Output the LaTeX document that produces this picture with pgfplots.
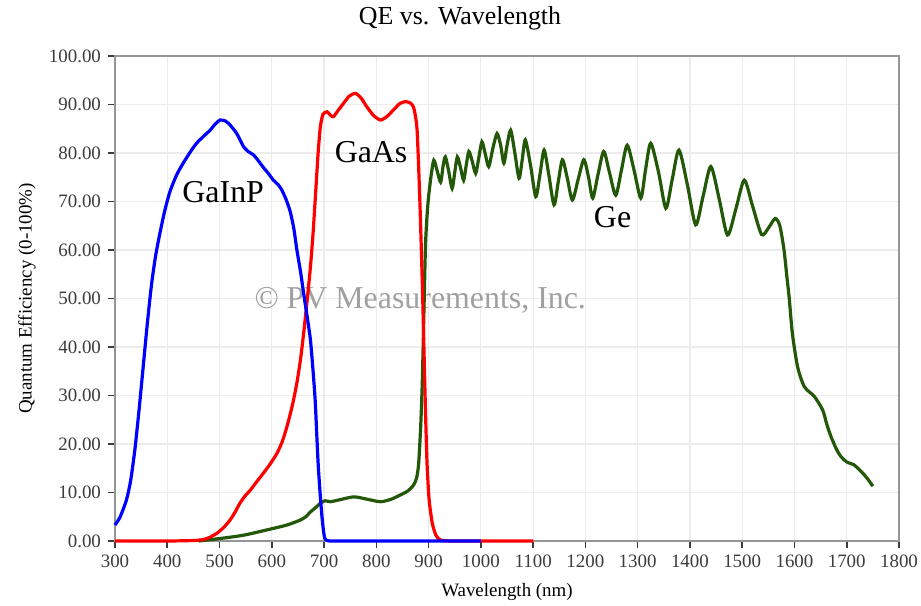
\documentclass[border=0pt]{standalone}
\usepackage{pgfplots}
\pgfplotsset{compat=1.18}
\usepackage{fontspec}
\setmainfont{Liberation Serif}
\definecolor{geg}{RGB}{35,88,8}
\definecolor{axgray}{RGB}{150,150,150}
\definecolor{gridgray}{RGB}{236,236,236}
\definecolor{ticktext}{RGB}{60,60,60}
\definecolor{wm}{RGB}{160,160,160}
\begin{document}
\begin{tikzpicture}
\path[use as bounding box] (-57.5bp,-32.5bp) rectangle (403bp,270.5bp);
\node[font=\fontsize{13}{15}\selectfont] at (172.5bp,261.5bp) {QE vs. Wavelength};
\begin{axis}[
  at={(0,0)}, anchor=south west,
  scale only axis, width=392bp, height=242.5bp,
  xmin=300, xmax=1800, ymin=0, ymax=100,
  xtick={300,400,...,1800}, ytick={0,10,...,100},
  /pgf/number format/assume math mode=true,
  x tick label style={/pgf/number format/1000 sep={}, font=\fontsize{9.5}{11}\selectfont, text=ticktext},
  y tick label style={/pgf/number format/fixed, /pgf/number format/fixed zerofill, /pgf/number format/precision=2, font=\fontsize{9.5}{11}\selectfont, text=ticktext},
  tick align=outside, major tick length=3.5bp,
  tick style={ticktext, line width=0.8bp},
  xtick pos=bottom, ytick pos=left,
  axis line style={axgray, line width=0.8bp},
  grid=major, major grid style={gridgray, line width=0.6bp},
  xlabel={Wavelength (nm)}, ylabel={Quantum Efficiency (0-100\%)},
  label style={font=\fontsize{9.5}{11}\selectfont},
  xlabel style={at={(axis description cs:0.5,0)}, anchor=center, yshift=-25.5bp},
  ylabel style={at={([xshift=-44bp]axis description cs:0,0.5)}, anchor=center},
  clip=false,
]
\node[font=\fontsize{16}{18}\selectfont, text=wm] at (axis cs:884,49.7) {© PV Measurements, Inc.};
\addplot[geg, line width=1.6bp, smooth, tension=0.45] coordinates {
(460,0) (500,0.5) (546,1.2) (591,2.3) (629,3.3) (654,4.3) (665,5) (674,6) (684,6.9) (693,7.8) (702,8.3) (712,8.1) (730,8.5) (757,9.1) (783,8.6) (808,8.1) (828,8.6) (846,9.5) (860,10.3) (871,11.5) (877,13) (881,16) (885,24) (888,33) (891,47) (894,60.7) (897,67) (900,71) (905,75.5) (910,78.5)
(916,76.5)(923,74)(928,77.5)(932,79.2)(938,76.5)(945,72.7)(950,76)(955,79.2)(961,77)(967,74.4)(972,77.5)(977,80.3)(983,78.5)(990,75.8)(996,79)(1002,82.3)(1008,80)(1015,77.2)(1023,81)(1031,84)(1038,81.5)(1044,77.9)(1050,81.5)(1057,84.7)(1065,80)(1073,74.8)(1079,78.5)(1085,82.7)(1095,77.5)(1105,71)(1113,75.5)(1121,80.6)(1130,75.5)(1140,69.3)(1148,74)(1156,78.6)(1165,75)(1175,70.3)(1186,74.5)(1197,78.6)(1206,75)(1214,70.7)(1224,75.5)(1235,80.3)(1246,76)(1258,71.3)(1269,76.5)(1280,81.6)(1293,76.5)(1306,70.7)(1315,76.5)(1325,82)(1340,76)(1354,68.6)(1366,74.5)(1379,80.6)(1395,73.5)(1411,65.2)(1425,71)(1440,77.2)(1456,70.5)(1472,63.1)(1488,68.5)(1504,74.4)(1520,69)(1537,63.2)(1550,64.5)(1563,66.5)(1572,65)(1580,60)(1585,55)(1590,50)(1596,42.8)(1606,35.9)(1619,31.8)(1638,29.8)(1654,27)(1662,24)(1670,21.5)(1680,19)(1689,17.4)(1700,16.3)(1714,15.7)(1724,14.7)(1734,13.6)(1742,12.5)(1750,11.3)
};
\addplot[red, line width=1.6bp, smooth, tension=0.4] coordinates {
(300,0) (400,0) (450,0.1) (469,0.3) (482,0.8) (495,1.6) (508,2.8) (520,4.3) (530,6) (539,7.8) (549,9.3) (559,10.5) (571,12.2) (584,14) (597,15.9) (610,18.1) (620,20.5) (629,23.6) (639,27.8) (648,32.6) (655,37.5) (661,42.9) (668,50) (674,56.6) (679,63.5) (683,70.3) (686,75.5) (689,80.6) (693,85.5) (698,88) (706,88.5) (712,87.8) (718,87.5) (727,88.8) (737,90.2) (748,91.7) (760,92.3) (771,91.3) (782,89.5) (795,87.7) (808,86.8) (820,87.5) (833,88.9) (845,90.2) (856,90.6) (865,90.3) (871,89.5) (875,87.5) (878,84.7) (881,77) (884,67.6) (888,53) (891,40) (894,27) (897,16) (901,8.5) (907,3.7) (914,1.2) (923,0.2) (950,0) (1100,0)
};
\addplot[blue, line width=1.6bp, smooth, tension=0.4] coordinates {
(300,3.3) (310,5) (322,8.5) (330,12.5) (338,18.8) (346,27) (354,36) (362,45) (370,53) (378,59) (386,63.5) (395,68) (405,72) (418,75.5) (431,78) (444,80.2) (456,82) (470,83.5) (482,84.7) (492,86) (501,86.8) (511,86.6) (520,85.8) (533,84) (546,81.3) (555,80.3) (565,79.6) (575,78.3) (584,77) (594,75.7) (603,74.4) (612,73.5) (619,72.4) (627,70.5) (635,68) (642,64.5) (648,60) (655,55.5) (661,51) (668,46) (674,41.4) (679,35) (683,29) (686,22) (689,15.3) (693,9) (696,5) (699,2) (702,0.4) (710,0) (750,0) (1000,0)
};
\node[font=\fontsize{16}{18}\selectfont] at (axis cs:507,72) {GaInP};
\node[font=\fontsize{16}{18}\selectfont] at (axis cs:790,80.2) {GaAs};
\node[font=\fontsize{16}{18}\selectfont] at (axis cs:1252,66.8) {Ge};
\end{axis}
\end{tikzpicture}
\end{document}
